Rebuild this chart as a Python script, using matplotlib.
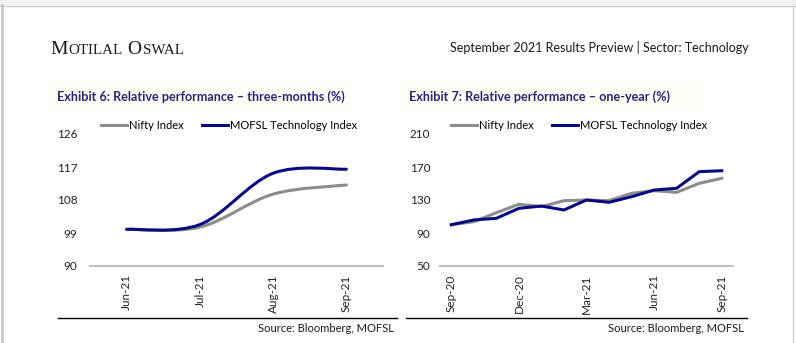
import matplotlib
matplotlib.use("Agg")
import matplotlib.pyplot as plt
from matplotlib.path import Path
from matplotlib.patches import PathPatch, Rectangle
from matplotlib.lines import Line2D

# ---- data ----
months_3m = ["Jun-21", "Jul-21", "Aug-21", "Sep-21"]
nifty_3m = [100.0, 100.6, 109.6, 112.1]
mofsl_3m = [100.0, 101.3, 115.3, 116.4]

months_1y = ["Sep-20", "Oct-20", "Nov-20", "Dec-20", "Jan-21", "Feb-21", "Mar-21",
             "Apr-21", "May-21", "Jun-21", "Jul-21", "Aug-21", "Sep-21"]
nifty_1y = [100.0, 103.7, 114.6, 124.8, 121.9, 129.2, 130.0, 129.2, 138.1, 141.3, 139.3, 150.2, 156.3]
mofsl_1y = [100.0, 105.8, 107.8, 119.9, 122.7, 117.9, 130.0, 127.2, 134.0, 142.1, 144.2, 164.3, 165.5]

yticks_3m = [90, 99, 108, 117, 126]
yticks_1y = [50, 90, 130, 170, 210]

GRAY = "#8C8C8C"
NAVY = "#0A0A80"
TITLE = "#262673"
FONT = "Lato"

W, H = 796, 343
fig = plt.figure(figsize=(W / 100, H / 100), dpi=100)
fig.patch.set_facecolor("white")


def fx(px):
    return px / W


def fy(py):
    return 1 - py / H


# page frame
fig.add_artist(Rectangle((0, fy(5)), 1, 5 / H, transform=fig.transFigure, color="#F1F1F1", lw=0))
fig.add_artist(Line2D([0, 1], [fy(5.5), fy(5.5)], transform=fig.transFigure, color="#C8C8C8", lw=1))
fig.add_artist(Line2D([fx(2), fx(2)], [0, fy(5)], transform=fig.transFigure, color="#C8C8C8", lw=2))
fig.add_artist(Line2D([fx(793), fx(793)], [0, fy(5)], transform=fig.transFigure, color="#D0D0D0", lw=1))


def smooth_path(xs, ys):
    # excel style smoothed line: cubic bezier through each point
    verts = [(xs[0], ys[0])]
    codes = [Path.MOVETO]
    n = len(xs)
    for i in range(n - 1):
        p0 = max(i - 1, 0)
        p3 = min(i + 2, n - 1)
        c1 = (xs[i] + (xs[i + 1] - xs[p0]) / 6, ys[i] + (ys[i + 1] - ys[p0]) / 6)
        c2 = (xs[i + 1] - (xs[p3] - xs[i]) / 6, ys[i + 1] - (ys[p3] - ys[i]) / 6)
        verts += [c1, c2, (xs[i + 1], ys[i + 1])]
        codes += [Path.CURVE4] * 3
    return Path(verts, codes)


def setup_axes(ax, yticks, labels, step, pad_y):
    n = len(labels)
    ax.set_xlim(-0.5, n - 0.5)
    ax.set_ylim(yticks[0], yticks[-1])
    ax.set_yticks(yticks)
    ax.set_xticks(range(0, n, step))
    ax.set_xticklabels(labels[::step], rotation=90, fontsize=8.5, family=FONT, color="#222222")
    for t in ax.get_yticklabels():
        t.set_fontsize(8.5)
        t.set_family(FONT)
        t.set_color("#222222")
    ax.tick_params(length=0)
    ax.tick_params(axis="y", pad=pad_y)
    ax.tick_params(axis="x", pad=6)
    for s in ["top", "left", "right"]:
        ax.spines[s].set_visible(False)
    ax.spines["bottom"].set_color("#BFBFBF")
    ax.spines["bottom"].set_linewidth(1.5)
    ax.patch.set_alpha(0)


# left chart: three months
ax1 = fig.add_axes([fx(90), fy(266), fx(293), (266 - 134) / H])
setup_axes(ax1, yticks_3m, months_3m, 1, 9)
x3 = list(range(len(months_3m)))
ax1.add_patch(PathPatch(smooth_path(x3, nifty_3m), fill=False, edgecolor=GRAY, lw=2.2, capstyle="round"))
ax1.add_patch(PathPatch(smooth_path(x3, mofsl_3m), fill=False, edgecolor=NAVY, lw=2.2, capstyle="round"))

# right chart: one year
ax2 = fig.add_axes([fx(440), fy(266), fx(293), (266 - 134) / H])
setup_axes(ax2, yticks_1y, months_1y, 3, 7)
x1 = range(len(months_1y))
ax2.plot(x1, nifty_1y, color=GRAY, lw=2.2, solid_joinstyle="round")
ax2.plot(x1, mofsl_1y, color=NAVY, lw=2.2, solid_joinstyle="round")

handles = [Line2D([], [], color=GRAY, lw=2.2), Line2D([], [], color=NAVY, lw=2.2)]
for ax in (ax1, ax2):
    ax.legend(handles, ["Nifty Index", "MOFSL Technology Index"], loc="center",
              bbox_to_anchor=(0.474, 1.068), ncol=2, frameon=False,
              prop={"family": FONT, "size": 8}, handlelength=2.4, handletextpad=0.15,
              columnspacing=1.6, borderaxespad=0)

# header
fig.text(fx(749), fy(48), "September 2021 Results Preview | Sector: Technology",
         ha="right", va="center", fontsize=9, family=FONT, color="#1a1a1a")

# small caps logo text
fig.canvas.draw()
renderer = fig.canvas.get_renderer()
x = fx(50)
for part, size in [("M", 14), ("OTILAL", 10.8), (" ", 10.8), ("O", 14), ("SWAL", 10.8)]:
    t = fig.text(x, fy(54), part, ha="left", va="baseline", fontsize=size,
                 family="Liberation Serif", color="#1a1a1a")
    bb = t.get_window_extent(renderer)
    x += bb.width / W + (1.0 / W if part.strip() else 0)

# exhibit titles with faint background
titles = ["Exhibit 6: Relative performance – three-months (%)",
          "Exhibit 7: Relative performance – one-year (%)"]
for px, title in zip([57, 409], titles):
    fig.add_artist(Rectangle((fx(px - 7), fy(110)), fx(300), 28 / H, transform=fig.transFigure,
                             color="#FFFFF8", lw=0, zorder=0))
    fig.text(fx(px), fy(97), title, ha="left", va="center", fontsize=9.1,
             fontweight="bold", family=FONT, color=TITLE)

# source rules
for x0, x1r in [(58, 397), (406, 747)]:
    fig.add_artist(Line2D([fx(x0), fx(x1r)], [fy(318), fy(318)], transform=fig.transFigure,
                          color="black", lw=1))
    fig.text(fx(x1r - 3), fy(328), "Source: Bloomberg, MOFSL", ha="right", va="center",
             fontsize=8, family=FONT, color="#1a1a1a")

fig.savefig("out.png", dpi=100)
